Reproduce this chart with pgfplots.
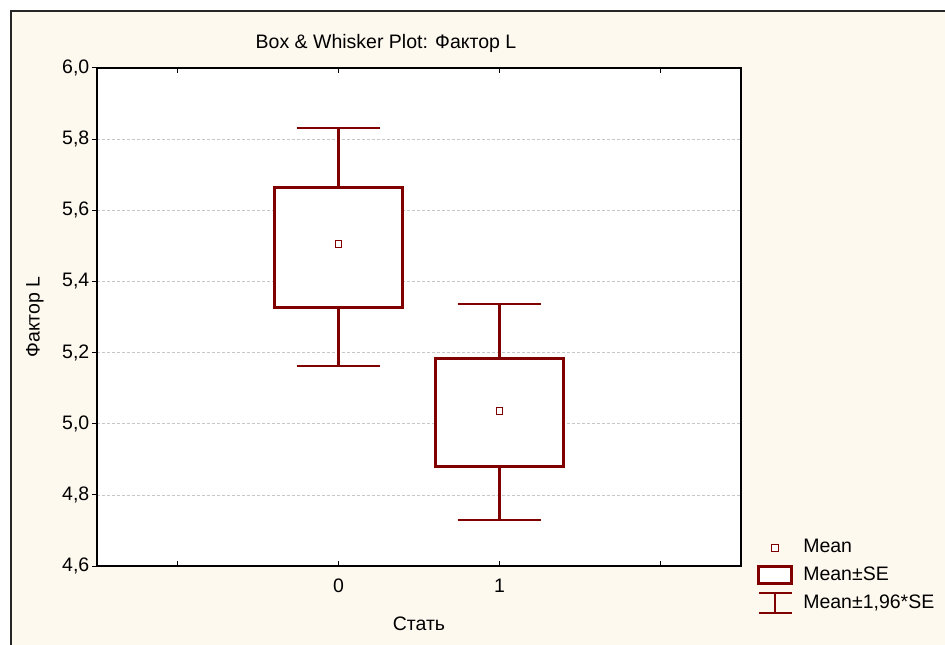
\documentclass[border=0pt]{standalone}
\usepackage{fontspec}
\setmainfont{Liberation Sans}
\usepackage{pgfplots}
\pgfplotsset{compat=1.18}
\usepgfplotslibrary{statistics}
\definecolor{boxred}{HTML}{800000}
\definecolor{cream}{HTML}{FEF9EF}

\begin{document}
\fontsize{19.5bp}{23bp}\selectfont
\begin{tikzpicture}[x=1bp,y=1bp]
\useasboundingbox (0,0) rectangle (945,-645);
\fill[white] (0,0) rectangle (945,-645);
\fill[cream] (11,-11) rectangle (945,-645);
\draw[line width=2.5bp,black!85] (11,-645) -- (11,-11) -- (945,-11);
\node[anchor=center] at (386,-43) {Box \& Whisker Plot: Фактор L};
\begin{axis}[
    at={(97bp,-566bp)}, anchor=south west,
    scale only axis, width=644bp, height=498bp,
    xmin=-1.5, xmax=2.5, ymin=4.6, ymax=6.0,
    enlargelimits=false,
    axis background/.style={fill=white},
    axis line style={line width=1.8bp, black},
    xtick={-1,0,1,2}, xticklabels={,0,1,},
    ytick={4.6,4.8,...,6.01},
    ytick pos=left, xtick pos=both,
    tick align=inside, major tick length=5bp,
    tick style={black, line width=1bp},
    y tick style={xshift=-5bp},
    ticklabel style={font=\fontsize{19.5bp}{23bp}\selectfont},
    xticklabel style={yshift=-6bp},
    yticklabel style={xshift=-1bp, /pgf/number format/.cd, fixed, fixed zerofill,
        precision=1, use comma, assume math mode=true},
    ymajorgrids,
    major grid style={gray!45, line width=0.7bp, dash pattern=on 3bp off 2bp},
    xlabel={Стать}, ylabel={Фактор L},
    label style={font=\fontsize{19.5bp}{23bp}\selectfont},
    xlabel style={at={(axis description cs:0.5,-0.1165)}, anchor=center},
    ylabel style={at={(axis description cs:-0.0963,0.5)}, anchor=center},
    boxplot/draw direction=y,
    legend style={at={(axis description cs:1.025,0.058)}, anchor=north west,
        draw=none, fill=none, inner sep=0pt, row sep=7bp, column sep=8bp,
        font=\fontsize{19.5bp}{23bp}\selectfont,
        legend cell align=left},
]
% legend keys
\addlegendimage{legend image code/.code={
    \draw[boxred, line width=0.9bp, fill=white] (13bp,-3.5bp) rectangle (20bp,3.5bp);
    \path (0bp,-9bp) (33bp,9bp);}}
\addlegendentry{Mean}
\addlegendimage{legend image code/.code={
    \draw[boxred, line width=3bp, fill=white] (0bp,-8.5bp) rectangle (33bp,8.5bp);}}
\addlegendentry{Mean±SE}
\addlegendimage{legend image code/.code={
    \draw[boxred, line width=2.2bp] (0bp,10bp) -- (33bp,10bp)
        (16.5bp,10bp) -- (16.5bp,-10bp) (0bp,-10bp) -- (33bp,-10bp);}}
\addlegendentry{Mean±1,96*SE}

% group 0
\addplot[boxred, fill=white, forget plot,
    boxplot/every box/.style={line width=3bp},
    boxplot/every whisker/.style={line width=2.2bp},
    boxplot/draw/median/.code={},
    boxplot prepared={draw position=0,
        lower whisker=5.162, lower quartile=5.328, median=5.505,
        upper quartile=5.665, upper whisker=5.831,
        box extend=0.8, whisker extend=0.52}]
    coordinates {};
% group 1
\addplot[boxred, fill=white, forget plot,
    boxplot/every box/.style={line width=3bp},
    boxplot/every whisker/.style={line width=2.2bp},
    boxplot/draw/median/.code={},
    boxplot prepared={draw position=1,
        lower whisker=4.729, lower quartile=4.881, median=5.036,
        upper quartile=5.184, upper whisker=5.336,
        box extend=0.8, whisker extend=0.52}]
    coordinates {};
% means
\addplot[only marks, forget plot, mark=square*, mark size=3.4bp,
    mark options={fill=white, draw=boxred, line width=1bp}]
    coordinates {(0,5.505) (1,5.036)};
\end{axis}
\end{tikzpicture}
\end{document}
